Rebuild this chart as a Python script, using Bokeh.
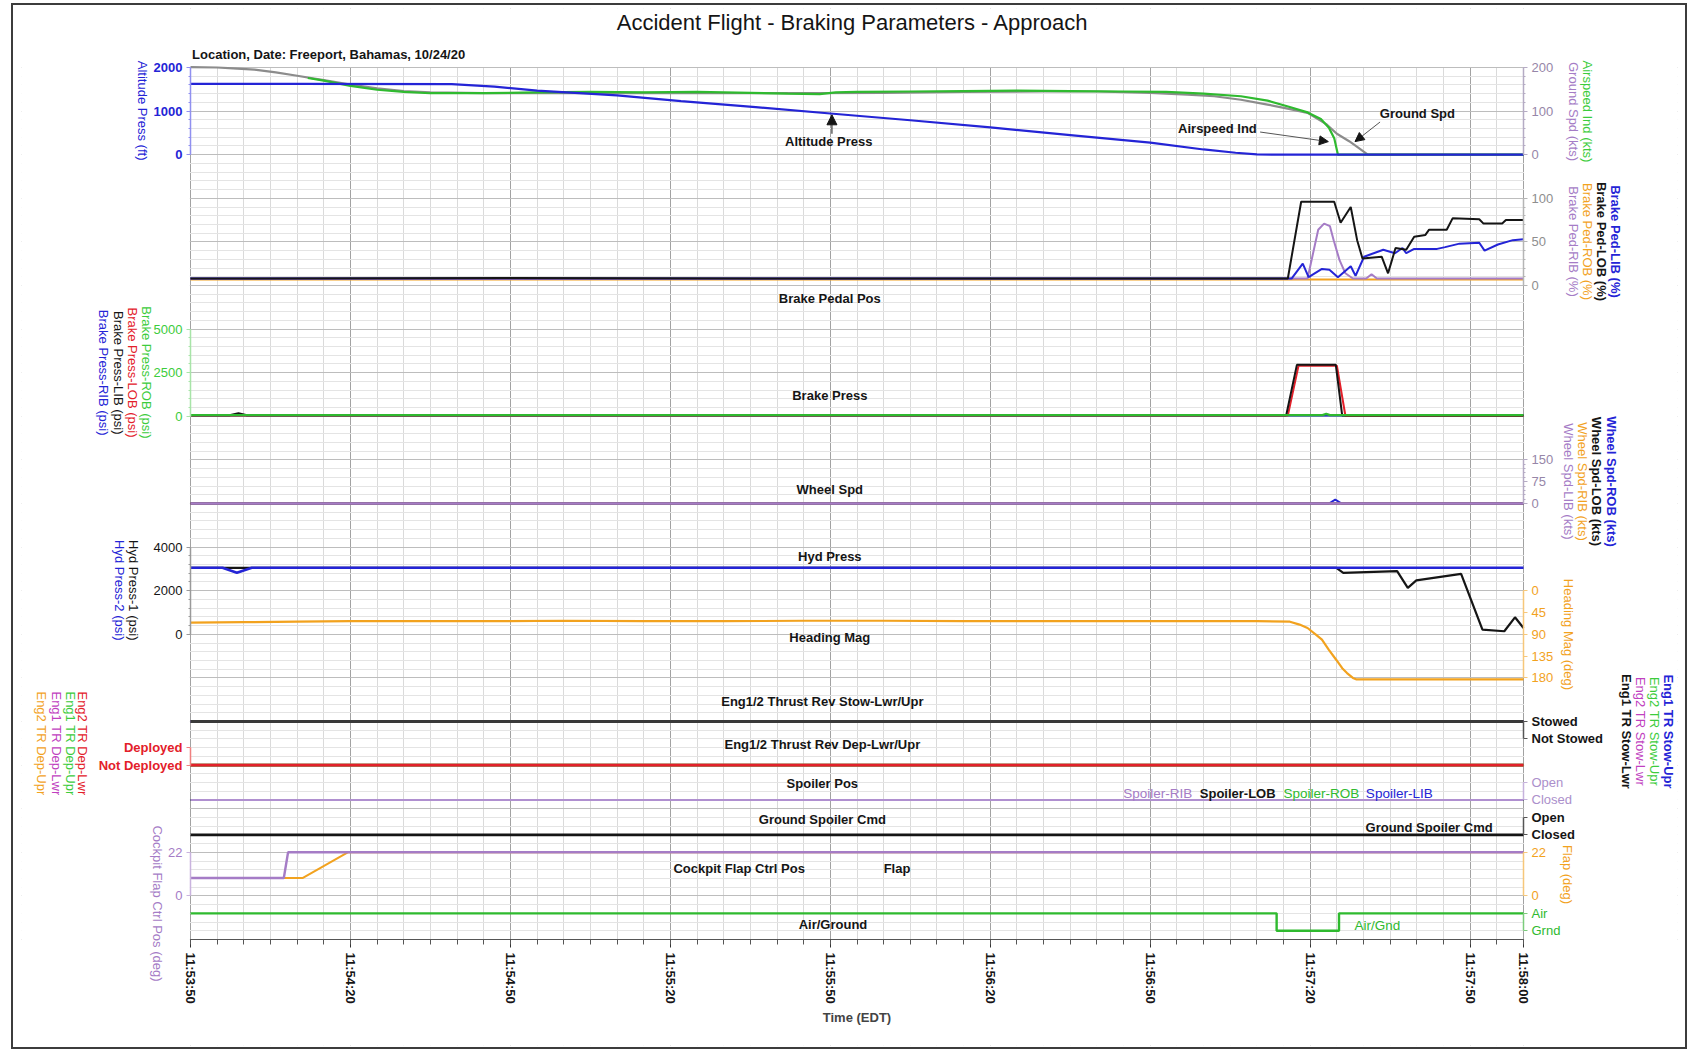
import math
from bokeh.plotting import figure
from bokeh.layouts import column
from bokeh.models import (Range1d, LinearAxis, FixedTicker, Grid, Label, Arrow,
                          NormalHead, BoxAnnotation)
from bokeh.embed import file_html
from bokeh.resources import INLINE

FONT = "Liberation Sans"

# ---------------- data (time = seconds after 11:53:50 EDT) ----------------
time_tick_values = [0, 30, 60, 90, 120, 150, 180, 210, 240, 250]
time_tick_labels = ["11:53:50", "11:54:20", "11:54:50", "11:55:20", "11:55:50",
                    "11:56:20", "11:56:50", "11:57:20", "11:57:50", "11:58:00"]

alt_t = [0, 20, 49, 57, 65, 80, 92, 106, 120, 135, 150, 165, 180, 190, 196, 200, 203, 250]
alt_v = [1625, 1625, 1620, 1560, 1470, 1360, 1230, 1090, 945, 790, 625, 450, 275, 120, 45, 8, 0, 0]

gspd_t = [0, 5, 8, 12, 16, 20, 25, 30, 35, 40, 45, 55, 70, 85, 100, 115, 130, 145, 160, 170,
          180, 187, 192, 197, 202, 206, 209.5, 213, 215, 217.3, 219, 220.8, 250]
gspd_v = [201, 200, 198, 195, 189, 181, 171, 161, 152, 146, 143, 141, 141, 142, 141, 141, 142,
          144, 145, 145, 142, 138, 134, 126, 115, 105, 96, 70, 48, 31, 16, 0, 0]

ias_t = [22, 25, 30, 35, 40, 45, 55, 65, 75, 85, 95, 105, 112, 118, 121, 125, 135, 145, 155,
         165, 175, 183, 190, 197, 202, 206, 209.5, 212, 213.5, 214.5, 215.2, 250]
ias_v = [176, 170, 158, 149, 144, 141, 141, 143, 144, 143, 144, 142, 140, 139, 143, 144, 145,
         146, 147, 146, 145, 144, 140, 134, 124, 110, 97, 82, 62, 38, 0, 0]

ped_lob_t = [0, 60, 120, 180, 205.8, 208.3, 214.5, 215.7, 217.6, 218.8, 219.8, 223.4, 224.6,
             226, 228, 229.5, 231.6, 232.3, 235.6, 236.7, 241.7, 242.5, 246, 246.7, 250]
ped_lob_v = [8, 8.5, 8, 8, 8, 96, 96, 72, 90, 52, 31, 33, 14, 43, 41, 56, 58, 64, 64, 77, 76,
             71, 71, 75, 75]
ped_lib_t = [0, 206.5, 208.6, 209.7, 212.2, 213.6, 215.2, 217.6, 218.5, 220.1, 221.9, 223.7,
             225.9, 227.3, 228, 229.5, 233.8, 235.3, 238, 241.7, 242.7, 245.2, 248, 250]
ped_lib_v = [8, 8, 25, 9.5, 19, 18, 9.5, 22, 11, 33, 37, 41, 37, 43, 37, 42, 42, 44, 48, 49,
             40, 47, 52, 53]
ped_rob_t = [0, 250]
ped_rob_v = [7, 7]
ped_rib_t = [0, 209.5, 211.5, 212.6, 213.7, 214.4, 215.5, 216.6, 218, 220.5, 221.5, 222.5, 250]
ped_rib_v = [8, 8, 64, 71, 68, 52, 29, 14, 8, 8, 13, 8, 8]

bp_lib_t = [0, 7.3, 9, 10.6, 205.5, 207.5, 214.8, 216, 250]
bp_lib_v = [60, 60, 170, 60, 60, 2950, 2950, 40, 40]
bp_lob_t = [0, 205.8, 207.8, 215, 216.6, 250]
bp_lob_v = [40, 40, 2900, 2900, 30, 30]
bp_rob_t = [0, 212.3, 213, 213.7, 250]
bp_rob_v = [70, 70, 140, 70, 70]
bp_rib_t = [0, 250]
bp_rib_v = [50, 50]

whl_rob_t = [0, 213.5, 214.7, 215.9, 250]
whl_rob_v = [0, 0, 13, 0, 0]
whl_other_t = [0, 250]
whl_other_v = [0, 0]

hyd1_t = [0, 214.9, 216.2, 226.3, 228.3, 229.9, 238.3, 242.3, 246.4, 248.4, 250]
hyd1_v = [3050, 3050, 2820, 2900, 2130, 2470, 2770, 210, 140, 780, 290]
hyd2_t = [0, 6, 8.7, 11.5, 250]
hyd2_v = [3050, 3050, 2820, 3050, 3050]

hdg_t = [0, 10, 20, 30, 40, 55, 70, 85, 100, 115, 130, 145, 160, 175, 190, 200, 206.2, 208,
         209.5, 211, 212.2, 213.5, 214.9, 216, 216.9, 218, 218.6, 250]
hdg_v = [66, 65, 64, 63, 63, 63, 62, 63, 63, 62, 62, 63, 63, 63, 63, 63, 64, 70, 77, 90, 101,
         122, 143, 160, 170, 180, 183, 183]

tr_t = [0, 250]
tr_stow_v = [1, 1]
tr_dep_v = [0, 0]
spoiler_v = [0, 0]
gnd_spoiler_v = [0, 0]

flap_ctrl_t = [0, 17.5, 18.3, 250]
flap_ctrl_v = [9, 9, 22, 22]
flap_t = [0, 21, 29.5, 250]
flap_v = [9, 9, 22, 22]

airgnd_t = [0, 203.7, 215.4, 250]
airgnd_v = [1, 0, 1, 1]

# ---------------- colours ----------------
BLUE = "#2424d6"
GREEN = "#2fba2f"
LGREEN = "#3ccc3c"
GRAY = "#8c8c8c"
BLACK = "#151515"
ORANGE = "#f2a21e"
PURPLE = "#a57cc6"
MAGENTA = "#c040c0"
RED = "#e3202a"

# ---------------- geometry (page pixels) ----------------
CX0, CY0, CW, CH = 13, 5, 1672, 1042          # canvas position / size
DATA_L, DATA_R, DATA_T, DATA_B = 190, 1523, 67, 939   # data area
FL, FR, FT, FB = 21, 1677, 8, 1045             # plotting frame (holds the axes too)
T0, T1 = 0, 250
PX_S = (DATA_R - DATA_L) / (T1 - T0)
PX_G = (DATA_B - DATA_T) / 20.0
G_TOP = (FT - DATA_T) / PX_G
G_BOT = (FB - DATA_T) / PX_G

# strips: value_a sits at grid row ga, value_b at row gb (0 = top of data, 20 = bottom)
CAL = {
    "alt": (0, 2, 2000, 0),
    "spd": (0, 2, 200, 0),
    "ped": (0, 5, 100, 3),
    "bp": (0, 8, 5000, 6),
    "whl": (0, 10, 150, 9),
    "hyd": (0, 13, 4000, 11),
    "hdg": (0, 12, 180, 14),
    "stow": (0, 15.4, 1, 15),
    "dep": (0, 16, 1, 15.6),
    "spl": (0, 16.8, 1, 16.4),
    "gsp": (0, 17.6, 1, 17.2),
    "flap": (0, 19, 22, 18),
    "ag": (0, 19.8, 1, 19.4),
}


def per_row(name):
    va, ga, vb, gb = CAL[name]
    return (vb - va) / (gb - ga)


def make_range(va, ga, vb, gb):
    s = (vb - va) / (gb - ga)
    return Range1d(start=va + (G_BOT - ga) * s, end=va + (G_TOP - ga) * s)


# Arial / Liberation Sans advance widths (1/1000 em), used to centre rotated labels
W = {" ": 278, "(": 333, ")": 333, "-": 333, "%": 889, "/": 278, "A": 667, "B": 667,
     "C": 722, "D": 722, "E": 667, "F": 611, "G": 778, "H": 722, "I": 278, "L": 556,
     "M": 833, "N": 722, "O": 778, "P": 667, "R": 722, "S": 667, "T": 611, "U": 722,
     "W": 944, "a": 556, "b": 556, "c": 500, "d": 556, "e": 556, "f": 278, "g": 556,
     "h": 556, "i": 222, "k": 500, "l": 222, "m": 833, "n": 556, "o": 556, "p": 556,
     "r": 333, "s": 500, "t": 278, "u": 556, "w": 722, "y": 500}


def text_px(s, size):
    return sum(W.get(ch, 556) for ch in s) * size / 1000.0


p = figure(width=CW, height=CH, output_backend="svg", toolbar_location=None,
           x_range=Range1d(T0 - (DATA_L - FL) / PX_S, T1 + (FR - DATA_R) / PX_S),
           y_range=Range1d(20 - G_BOT, 20 - G_TOP),
           x_axis_location=None, y_axis_location=None,
           min_border_left=FL - CX0, min_border_right=CX0 + CW - FR,
           min_border_top=FT - CY0, min_border_bottom=CY0 + CH - FB,
           background_fill_color="white", border_fill_color="white",
           outline_line_color=None)
p.center = [r for r in p.center if not isinstance(r, Grid)]
p.extra_y_ranges = {k: make_range(*v) for k, v in CAL.items()}

# grids (main y range = 20 - grid row)
p.add_layout(Grid(dimension=0, ticker=FixedTicker(ticks=time_tick_values,
                                                  minor_ticks=list(range(0, 251, 5))),
                  grid_line_color="#a2a2a2", minor_grid_line_color="#dadada"), "center")
p.add_layout(Grid(dimension=1, ticker=FixedTicker(ticks=list(range(0, 21)),
                                                  minor_ticks=[i / 5 for i in range(0, 101)]),
                  grid_line_color="#bdbdbd", minor_grid_line_color="#e4e4e4"), "center")
# keep the grid inside the data area
for kw in (dict(right=-0.12), dict(left=250.12), dict(top=-0.012), dict(bottom=20.012)):
    p.add_layout(BoxAnnotation(fill_color="white", fill_alpha=1.0, line_alpha=0.0,
                               level="underlay", **kw))

# ---------------- series ----------------
def ln(t, v, r, color, w=2.0):
    p.line(t, v, y_range_name=r, line_color=color, line_width=w)

ln(gspd_t, gspd_v, "spd", GRAY, 2.2)
ln(ias_t, ias_v, "spd", GREEN, 2.2)
ln(alt_t, alt_v, "alt", BLUE, 2.2)

ln(ped_rob_t, ped_rob_v, "ped", ORANGE)
ln(ped_rib_t, ped_rib_v, "ped", PURPLE)
ln(ped_lib_t, ped_lib_v, "ped", BLUE)
ln(ped_lob_t, ped_lob_v, "ped", BLACK)

ln(bp_rib_t, bp_rib_v, "bp", BLUE)
ln(bp_lob_t, bp_lob_v, "bp", RED)
ln(bp_lib_t, bp_lib_v, "bp", BLACK)
ln(bp_rob_t, bp_rob_v, "bp", GREEN, 2.4)

ln(whl_rob_t, whl_rob_v, "whl", BLUE)
ln(whl_other_t, whl_other_v, "whl", ORANGE)
ln(whl_other_t, whl_other_v, "whl", BLACK)
ln(whl_other_t, whl_other_v, "whl", PURPLE, 2.4)

ln(hyd1_t, hyd1_v, "hyd", BLACK, 2.2)
ln(hyd2_t, hyd2_v, "hyd", BLUE, 2.6)
ln(hdg_t, hdg_v, "hdg", ORANGE, 2.2)

for c in (BLUE, GREEN, MAGENTA):
    ln(tr_t, tr_stow_v, "stow", c, 2.6)
ln(tr_t, tr_stow_v, "stow", "#3a3a3a", 3.0)
for c in (ORANGE, MAGENTA, GREEN):
    ln(tr_t, tr_dep_v, "dep", c, 2.6)
ln(tr_t, tr_dep_v, "dep", RED, 2.6)
for c in (BLUE, GREEN, BLACK):
    ln(tr_t, spoiler_v, "spl", c, 2.2)
ln(tr_t, spoiler_v, "spl", "#b090d0", 2.2)
ln(tr_t, gnd_spoiler_v, "gsp", BLACK, 2.8)

ln(flap_t, flap_v, "flap", ORANGE, 2.0)
ln(flap_ctrl_t, flap_ctrl_v, "flap", PURPLE, 2.4)
p.step(airgnd_t, airgnd_v, y_range_name="ag", mode="after", line_color=GREEN, line_width=2.4)

# ---------------- axes ----------------
def tick_axis(side, r, ticks, color, spine, labels=None, minor=None, bold=False):
    ax = LinearAxis(y_range_name=r, fixed_location=T0 if side == "left" else T1,
                    ticker=FixedTicker(ticks=ticks, minor_ticks=minor or []),
                    bounds=(min(ticks), max(ticks)))
    if labels:
        ax.major_label_overrides = {t: l for t, l in zip(ticks, labels)}
    ax.major_label_text_color = color
    ax.major_label_text_font = FONT
    ax.major_label_text_font_size = "13px"
    ax.major_label_text_font_style = "bold" if bold else "normal"
    ax.major_label_standoff = 4
    ax.axis_line_color = spine
    ax.axis_line_width = 1.5
    ax.major_tick_line_color = spine
    ax.minor_tick_line_color = spine
    ax.major_tick_out = 4
    ax.major_tick_in = 0
    ax.minor_tick_out = 2
    ax.minor_tick_in = 0
    p.add_layout(ax, side)


def label_axis(side, r, text, color, center, standoff, bold=False, size=13):
    if side == "left":
        # rotated (top-to-bottom) left labels are anchored at their end
        center = center + text_px(text, size) / 2.0 / PX_G * per_row(r)
    eps = 1e-3 * abs(per_row(r))
    ax = LinearAxis(y_range_name=r, fixed_location=T0 if side == "left" else T1,
                    ticker=FixedTicker(ticks=[]), bounds=(center - eps, center + eps),
                    axis_label=text, axis_label_standoff=standoff,
                    axis_label_text_color=color, axis_label_text_font=FONT,
                    axis_label_text_font_size=f"{size}px",
                    axis_label_text_font_style="bold" if bold else "normal",
                    axis_line_color=None, major_tick_line_color=None,
                    minor_tick_line_color=None, major_tick_out=0, minor_tick_out=0,
                    major_tick_in=0, minor_tick_in=0)
    if side == "left":
        ax.axis_label_orientation = -math.pi / 2
    p.add_layout(ax, side)


tick_axis("left", "alt", [0, 1000, 2000], BLUE, "#9090f0", minor=list(range(0, 2001, 200)), bold=True)
tick_axis("left", "bp", [0, 2500, 5000], LGREEN, "#a8e4a8", minor=list(range(0, 5001, 500)))
tick_axis("left", "hyd", [0, 2000, 4000], BLACK, "#9a9a9a", minor=list(range(0, 4001, 400)))
tick_axis("left", "dep", [0, 1], RED, "#f08080", labels=["Not Deployed", "Deployed"], bold=True)
tick_axis("left", "flap", [0, 22], PURPLE, "#c9b3de")

tick_axis("right", "spd", [0, 100, 200], "#9686a8", "#b5abc4", minor=list(range(0, 201, 20)))
tick_axis("right", "ped", [0, 50, 100], "#8e8e8e", "#b5b5b5", minor=list(range(0, 101, 10)))
tick_axis("right", "whl", [0, 75, 150], "#9686a8", "#b5abc4", minor=list(range(0, 151, 15)))
tick_axis("right", "hdg", [0, 45, 90, 135, 180], ORANGE, "#f6c77a")
tick_axis("right", "stow", [0, 1], BLACK, "#555555", labels=["Not Stowed", "Stowed"], bold=True)
tick_axis("right", "spl", [0, 1], "#ab8fcb", "#c6b2dc", labels=["Closed", "Open"])
tick_axis("right", "gsp", [0, 1], BLACK, "#555555", labels=["Closed", "Open"], bold=True)
tick_axis("right", "flap", [0, 22], ORANGE, "#f6c77a")
tick_axis("right", "ag", [0, 1], GREEN, "#7ccc7c", labels=["Grnd", "Air"])

label_axis("left", "alt", "Altitude Press (ft)", BLUE, 1000, 48)
label_axis("left", "bp", "Brake Press-ROB (psi)", LGREEN, 2500, 44)
label_axis("left", "bp", "Brake Press-LOB (psi)", RED, 2500, 58)
label_axis("left", "bp", "Brake Press-LIB (psi)", BLACK, 2500, 72)
label_axis("left", "bp", "Brake Press-RIB (psi)", BLUE, 2500, 87)
label_axis("left", "hyd", "Hyd Press-1 (psi)", BLACK, 2000, 57)
label_axis("left", "hyd", "Hyd Press-2 (psi)", BLUE, 2000, 71)
label_axis("left", "dep", "Eng2 TR Dep-Lwr", RED, 1.25, 108)
label_axis("left", "dep", "Eng1 TR Dep-Upr", LGREEN, 1.25, 120)
label_axis("left", "dep", "Eng1 TR Dep-Lwr", MAGENTA, 1.25, 134)
label_axis("left", "dep", "Eng2 TR Dep-Upr", ORANGE, 1.25, 149)
label_axis("left", "flap", "Cockpit Flap Ctrl Pos (deg)", PURPLE, -4, 33)

label_axis("right", "spd", "Ground Spd (kts)", PURPLE, 100, 42)
label_axis("right", "spd", "Airspeed Ind (kts)", LGREEN, 100, 56)
label_axis("right", "ped", "Brake Ped-RIB (%)", PURPLE, 50, 42)
label_axis("right", "ped", "Brake Ped-ROB (%)", ORANGE, 50, 56)
label_axis("right", "ped", "Brake Ped-LOB (%)", BLACK, 50, 70, bold=True)
label_axis("right", "ped", "Brake Ped-LIB (%)", BLUE, 50, 84, bold=True)
label_axis("right", "whl", "Wheel Spd-LIB (kts)", PURPLE, 75, 37)
label_axis("right", "whl", "Wheel Spd-RIB (kts)", ORANGE, 75, 51)
label_axis("right", "whl", "Wheel Spd-LOB (kts)", BLACK, 75, 65, bold=True)
label_axis("right", "whl", "Wheel Spd-ROB (kts)", BLUE, 75, 80, bold=True)
label_axis("right", "hdg", "Heading Mag (deg)", ORANGE, 90, 37)
label_axis("right", "stow", "Eng1 TR Stow-Lwr", BLACK, 0.45, 95, bold=True)
label_axis("right", "stow", "Eng2 TR Stow-Lwr", MAGENTA, 0.45, 109)
label_axis("right", "stow", "Eng2 TR Stow-Upr", LGREEN, 0.45, 123)
label_axis("right", "stow", "Eng1 TR Stow-Upr", BLUE, 0.45, 137, bold=True)
label_axis("right", "flap", "Flap (deg)", ORANGE, 11, 36)

xax = LinearAxis(fixed_location=0, bounds=(T0, T1),
                 ticker=FixedTicker(ticks=time_tick_values, minor_ticks=list(range(0, 251, 5))),
                 major_label_overrides=dict(zip(time_tick_values, time_tick_labels)),
                 major_label_orientation=-math.pi / 2,
                 major_label_text_font=FONT, major_label_text_font_size="13px",
                 major_label_text_font_style="bold", major_label_text_color=BLACK,
                 axis_label="Time (EDT)", axis_label_text_font=FONT,
                 axis_label_text_font_size="13px", axis_label_text_font_style="bold",
                 axis_label_standoff=3, axis_line_color="#555555",
                 major_tick_out=8, major_tick_in=0, minor_tick_out=5, minor_tick_in=0,
                 major_tick_line_color="#333333", minor_tick_line_color="#555555")
p.add_layout(xax, "below")

# ---------------- titles and in-plot annotations ----------------
p.add_layout(Label(x=124.2, y=3040, y_range_name="alt",
                   text="Accident Flight - Braking Parameters - Approach",
                   text_align="center", text_baseline="middle", text_font=FONT,
                   text_font_size="22px", text_color=BLACK))
p.add_layout(Label(x=0.3, y=2298, y_range_name="alt",
                   text="Location, Date: Freeport, Bahamas, 10/24/20",
                   text_align="left", text_baseline="middle", text_font=FONT,
                   text_font_size="13px", text_font_style="bold", text_color=BLACK))

notes = [
    ("Altitude Press", 119.7, "alt", 314, BLACK),
    ("Brake Pedal Pos", 119.9, "ped", -15, BLACK),
    ("Brake Press", 119.9, "bp", 1210, BLACK),
    ("Wheel Spd", 119.9, "whl", 49, BLACK),
    ("Hyd Press", 119.9, "hyd", 3580, BLACK),
    ("Heading Mag", 119.9, "hdg", 96, BLACK),
    ("Eng1/2 Thrust Rev Stow-Lwr/Upr", 118.5, "stow", 2.15, BLACK),
    ("Eng1/2 Thrust Rev Dep-Lwr/Upr", 118.5, "dep", 1.18, BLACK),
    ("Spoiler Pos", 118.5, "spl", 0.95, BLACK),
    ("Ground Spoiler Cmd", 118.5, "gsp", 0.9, BLACK),
    ("Cockpit Flap Ctrl Pos", 102.9, "flap", 13.6, BLACK),
    ("Flap", 132.5, "flap", 13.6, BLACK),
    ("Air/Ground", 120.5, "ag", 0.37, BLACK),
    ("Air/Gnd", 222.6, "ag", 0.32, GREEN),
    ("Ground Spoiler Cmd", 232.3, "gsp", 0.4, BLACK),
    ("Spoiler-RIB", 181.4, "spl", 0.4, PURPLE),
    ("Spoiler-LOB", 196.4, "spl", 0.4, BLACK),
    ("Spoiler-ROB", 212.1, "spl", 0.4, GREEN),
    ("Spoiler-LIB", 226.7, "spl", 0.4, BLUE),
    ("Airspeed Ind", 192.6, "spd", 61, BLACK),
    ("Ground Spd", 230.1, "spd", 94, BLACK),
]
for text, t, r, v, c in notes:
    p.add_layout(Label(x=t, y=v, y_range_name=r, text=text, text_align="center",
                       text_baseline="middle", text_font=FONT,
                       text_font_size="13px" if c == BLACK else "13.5px",
                       text_font_style="bold" if c == BLACK else "normal", text_color=c))

arrows = [
    (120.3, 480, 120.3, 915, "alt", BLACK, 10),
    (200.6, 52, 213.4, 30, "spd", "#555555", 9),
    (223.1, 75, 218.4, 30, "spd", "#555555", 9),
]
for x0, y0, x1, y1, r, c, s in arrows:
    p.add_layout(Arrow(x_start=x0, y_start=y0, x_end=x1, y_end=y1, y_range_name=r,
                       line_color=c, line_width=1,
                       end=NormalHead(size=s, fill_color=BLACK, line_color=BLACK)))

root = column(p, margin=(3, 0, 0, 11), styles={"border": "2px solid #3c3c3c"})
open("out.html", "w").write(file_html(root, INLINE))
